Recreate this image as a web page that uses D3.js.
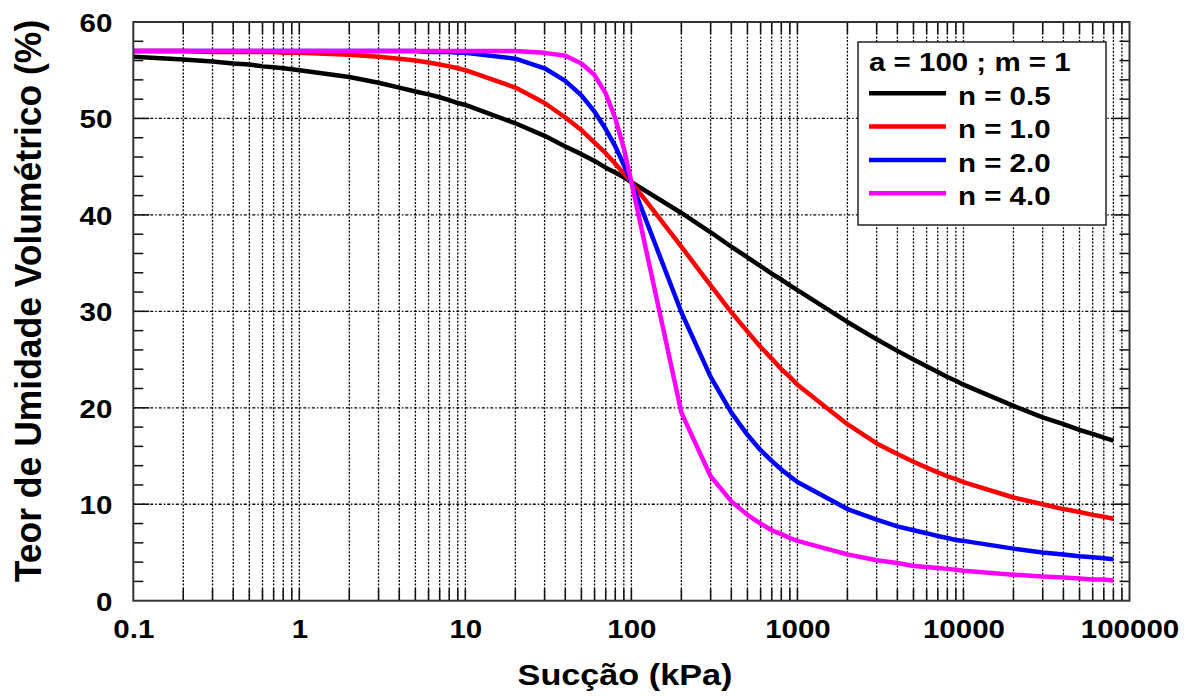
<!DOCTYPE html>
<html><head><meta charset="utf-8">
<script src="https://cdn.jsdelivr.net/npm/d3@7"></script>
<style>html,body{margin:0;padding:0;background:#fff}svg{display:block}</style>
</head><body>
<script>
// ---- data ----
const suction = [0.1,0.2,0.3,0.4,0.5,0.6,0.7,0.8,0.9,
  1,2,3,4,5,6,7,8,9,
  10,20,30,40,50,60,70,80,90,
  100,200,300,400,500,600,700,800,900,
  1000,2000,3000,4000,5000,6000,7000,8000,9000,
  10000,20000,30000,40000,50000,60000,70000,80000];
const thetaN05 = [56.4,56.1,55.9,55.7,55.6,55.4,55.3,55.2,55.1,
  55.0,54.3,53.7,53.2,52.8,52.5,52.2,51.9,51.6,
  51.4,49.5,48.2,47.1,46.3,45.6,44.9,44.4,43.9,
  43.4,40.2,38.2,36.7,35.6,34.7,33.9,33.3,32.7,
  32.2,28.9,27.1,25.9,25.0,24.3,23.7,23.2,22.8,
  22.4,20.2,19.0,18.3,17.7,17.3,16.9,16.6];
const thetaN10 = [57.0,57.0,56.9,56.9,56.9,56.9,56.9,56.8,56.8,
  56.8,56.6,56.4,56.2,56.0,55.8,55.6,55.4,55.2,
  55.0,53.2,51.6,50.1,48.8,47.5,46.4,45.3,44.3,
  43.4,36.7,32.7,29.9,27.9,26.3,25.1,24.0,23.2,
  22.4,18.3,16.3,15.2,14.4,13.8,13.3,12.9,12.6,
  12.3,10.7,10.0,9.5,9.2,8.9,8.7,8.5];
const thetaN20 = [57.0,57.0,57.0,57.0,57.0,57.0,57.0,57.0,57.0,
  57.0,57.0,57.0,57.0,57.0,56.9,56.9,56.9,56.8,
  56.8,56.2,55.2,53.9,52.4,50.7,48.9,47.1,45.2,
  43.4,29.9,23.2,19.5,17.2,15.6,14.5,13.6,12.9,
  12.3,9.5,8.4,7.7,7.3,7.0,6.7,6.5,6.3,
  6.2,5.4,5.0,4.8,4.6,4.5,4.4,4.3];
const thetaN40 = [57.0,57.0,57.0,57.0,57.0,57.0,57.0,57.0,57.0,
  57.0,57.0,57.0,57.0,57.0,57.0,57.0,57.0,57.0,
  57.0,57.0,56.8,56.5,55.7,54.5,52.6,50.0,46.9,
  43.4,19.5,12.9,10.3,8.9,8.0,7.3,6.9,6.5,
  6.2,4.8,4.2,3.9,3.6,3.5,3.4,3.3,3.2,
  3.1,2.7,2.5,2.4,2.3,2.2,2.2,2.1];
const seriesNames = ["n = 0.5","n = 1.0","n = 2.0","n = 4.0"];
const seriesColors = ["#000000","#ff0000","#0000ff","#ff00ff"];
const seriesValues = [thetaN05, thetaN10, thetaN20, thetaN40];
const xTickValues = [0.1,1,10,100,1000,10000,100000];
const xTickLabels = ["0.1","1","10","100","1000","10000","100000"];
const yTickValues = [0,10,20,30,40,50,60];
const legendTitle = "a = 100 ; m = 1";
const xTitle = "Sucção (kPa)";
const yTitle = "Teor de Umidade Volumétrico (%)";

// ---- layout ----
const W = 1188, H = 696;
const L = 133.3, R = 1129.5, T = 22, B = 600.7;
const SX = 1.18; // horizontal text stretch
const FONT = "'Liberation Sans', Arial, Helvetica, sans-serif";

const svg = d3.select("body").append("svg").attr("width", W).attr("height", H);
svg.append("rect").attr("width", W).attr("height", H).attr("fill", "#fff");

const x = d3.scaleLog().domain([0.1, 100000]).range([L, R]);
const y = d3.scaleLinear().domain([0, 60]).range([B, T]);

function stretch(sel) {
  sel.each(function() {
    const t = d3.select(this);
    const tx = +t.attr("x") || 0, ty = +t.attr("y") || 0;
    t.attr("transform", `translate(${tx},${ty}) scale(${SX},1) translate(${-tx},${-ty})`);
  });
}

// grid
const gridX = x.ticks().filter(v => v > 0.1 * 1.0001 && v < 100000 * 0.9999);
const g = svg.append("g");
g.selectAll(".vg").data(gridX).join("line")
  .attr("x1", d => x(d)).attr("x2", d => x(d)).attr("y1", T).attr("y2", B)
  .attr("stroke", "#000").attr("stroke-width", 1.3).attr("stroke-dasharray", "2,1.6");
g.selectAll(".hg").data(yTickValues.filter(v => v > 0 && v < 60)).join("line")
  .attr("x1", L).attr("x2", R).attr("y1", d => y(d)).attr("y2", d => y(d))
  .attr("stroke", "#000").attr("stroke-width", 1.3).attr("stroke-dasharray", "3,2,1.5,2");

// ticks
const tk = svg.append("g").attr("stroke", "#111").attr("stroke-width", 1.5);
gridX.forEach(v => {
  tk.append("line").attr("x1", x(v)).attr("x2", x(v)).attr("y1", B).attr("y2", B - 12);
  tk.append("line").attr("x1", x(v)).attr("x2", x(v)).attr("y1", T).attr("y2", T + 12);
});
d3.range(2, 60, 2).forEach(v => {
  const len = v % 10 === 0 ? 16 : 10;
  tk.append("line").attr("x1", L).attr("x2", L + len).attr("y1", y(v)).attr("y2", y(v));
  tk.append("line").attr("x1", R).attr("x2", R - len).attr("y1", y(v)).attr("y2", y(v));
});

// curves
const line = d3.line().x(d => x(d[0])).y(d => y(d[1]));
seriesValues.forEach((vals, i) => {
  svg.append("path")
    .datum(suction.map((s, k) => [s, vals[k]]))
    .attr("d", line).attr("fill", "none")
    .attr("stroke", seriesColors[i]).attr("stroke-width", 4.5)
    .attr("stroke-linejoin", "round").attr("stroke-linecap", "butt");
});

// frame
svg.append("rect").attr("x", L).attr("y", T).attr("width", R - L).attr("height", B - T)
  .attr("fill", "none").attr("stroke", "#333").attr("stroke-width", 2);

// axes labels
const xAxis = svg.append("g").attr("transform", `translate(0,${B})`)
  .call(d3.axisBottom(x).tickValues(xTickValues).tickSize(0).tickPadding(20)
    .tickFormat((d, i) => xTickLabels[i]));
xAxis.select(".domain").remove();
xAxis.selectAll("text").attr("font-family", FONT).attr("font-weight", "bold")
  .attr("font-size", 25).attr("fill", "#000").call(stretch);

const yAxis = svg.append("g").attr("transform", `translate(${L},0)`)
  .call(d3.axisLeft(y).tickValues(yTickValues).tickSize(0).tickPadding(21)
    .tickFormat(d3.format("d")));
yAxis.select(".domain").remove();
yAxis.selectAll("text").attr("font-family", FONT).attr("font-weight", "bold")
  .attr("font-size", 25).attr("fill", "#000").attr("dy", "0.38em").call(stretch);

svg.append("text").attr("x", 625).attr("y", 685).attr("text-anchor", "middle")
  .attr("font-family", FONT).attr("font-weight", "bold").attr("font-size", 29)
  .text(xTitle).call(stretch);

svg.append("text")
  .attr("transform", `translate(41,301) scale(1.05,1) rotate(-90)`)
  .attr("text-anchor", "middle")
  .attr("font-family", FONT).attr("font-weight", "bold").attr("font-size", 35.5)
  .text(yTitle);

// legend
const lg = svg.append("g");
lg.append("rect").attr("x", 858).attr("y", 42).attr("width", 248).attr("height", 183)
  .attr("fill", "#fff").attr("stroke", "#222").attr("stroke-width", 1.5);
lg.append("text").attr("x", 869).attr("y", 71)
  .attr("font-family", FONT).attr("font-weight", "bold").attr("font-size", 25)
  .text(legendTitle).call(stretch);
seriesNames.forEach((name, i) => {
  const ly = 93.3 + i * 33.3;
  lg.append("line").attr("x1", 869).attr("x2", 946).attr("y1", ly).attr("y2", ly)
    .attr("stroke", seriesColors[i]).attr("stroke-width", 4.5);
  lg.append("text").attr("x", 958).attr("y", ly + 11.7)
    .attr("font-family", FONT).attr("font-weight", "bold").attr("font-size", 25)
    .text(name).call(stretch);
});
</script>
</body></html>
